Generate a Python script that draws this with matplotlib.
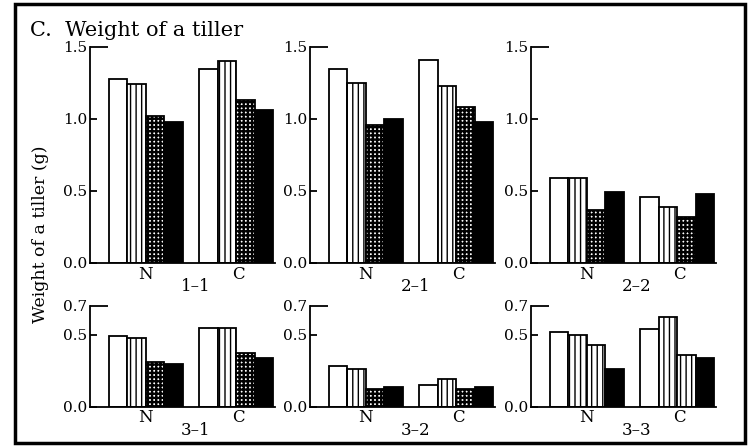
import matplotlib
matplotlib.use("Agg")
import matplotlib.pyplot as plt
from matplotlib.patches import Rectangle

# data
panels = ["1\u20131", "2\u20131", "2\u20132", "3\u20131", "3\u20132", "3\u20133"]
groups = ["N", "C"]
n_vals = [
    [1.28, 1.24, 1.02, 0.98],
    [1.35, 1.25, 0.96, 1.00],
    [0.59, 0.59, 0.37, 0.49],
    [0.49, 0.48, 0.31, 0.30],
    [0.28, 0.26, 0.12, 0.14],
    [0.52, 0.50, 0.43, 0.26],
]
c_vals = [
    [1.35, 1.40, 1.13, 1.06],
    [1.41, 1.23, 1.08, 0.98],
    [0.46, 0.39, 0.32, 0.48],
    [0.55, 0.55, 0.37, 0.34],
    [0.15, 0.19, 0.12, 0.14],
    [0.54, 0.62, 0.36, 0.34],
]
top_ticks = [0.0, 0.5, 1.0, 1.5]
bot_ticks = [0.0, 0.5, 0.7]

# bar styles: open, striped, checked, solid (3-3 third bar is striped in print)
styles = [("white", ""), ("white", "|||"), ("white", "++++"), ("black", "")]

plt.rcParams['font.family'] = ['DejaVu Serif']
plt.rcParams['hatch.linewidth'] = 1.0

W, H = 748, 447
fig = plt.figure(figsize=(W / 100, H / 100), dpi=100)

# outer frame
fig.patches.append(Rectangle((15 / W, 4 / H), 730 / W, 439 / H, transform=fig.transFigure,
                             fill=False, lw=2.5, ec="black"))
fig.text(30 / W, 1 - 36 / H, "C.  Weight of a tiller", fontsize=15, va="baseline")
fig.text(41 / W, 1 - 234 / H, "Weight of a tiller (g)", fontsize=12.5, rotation=90,
         ha="center", va="center")

lefts = [90, 310, 531]
rows = [(263, 216, top_ticks, 1.5), (406.7, 100.8, bot_ticks, 0.7)]

for k in range(6):
    r, c = divmod(k, 3)
    y0, h, ticks, ymax = rows[r]
    ax = fig.add_axes([lefts[c] / W, 1 - y0 / H, 185 / W, h / H])
    n_pos = [1.5, 2.5, 3.5, 4.5]
    c_pos = [6.4, 7.4, 8.4, 9.4]
    for i in range(4):
        fc, hat = styles[i]
        if k == 5 and i == 2:
            hat = "|||"
        for pos, vals in ((n_pos, n_vals[k]), (c_pos, c_vals[k])):
            if hat == "++++":
                with plt.rc_context({'hatch.linewidth': 1.7}):
                    b = ax.bar(pos[i], vals[i], width=1.0, color=fc, edgecolor="black",
                               hatch=hat, linewidth=1.3)
                for p in b:
                    if hasattr(p, "set_hatch_linewidth"):
                        p.set_hatch_linewidth(1.7)
            else:
                ax.bar(pos[i], vals[i], width=1.0, color=fc, edgecolor="black",
                       hatch=hat, linewidth=1.3)
    ax.set_xlim(0, 10)
    ax.set_ylim(0, ymax)
    for s in ["top", "right"]:
        ax.spines[s].set_visible(False)
    ax.spines["left"].set_linewidth(1.3)
    ax.spines["bottom"].set_linewidth(1.3)
    ax.set_yticks(ticks)
    ax.set_yticklabels([f"{t:.1f}" for t in ticks])
    ax.tick_params(axis="y", direction="in", length=5, width=1.3, pad=2, labelsize=11)
    ytk = ax.yaxis.get_major_ticks()
    ytk[-1].tick1line.set_markersize(13)
    ax.set_xticks([3.0, 8.0])
    ax.set_xticklabels(groups)
    ax.tick_params(axis="x", length=0, pad=2, labelsize=12)
    ax.annotate(panels[k], xy=(0.57, 0), xycoords="axes fraction", xytext=(0, -11),
                textcoords="offset points", ha="center", va="top", fontsize=12)

fig.savefig("out.png", dpi=100)
